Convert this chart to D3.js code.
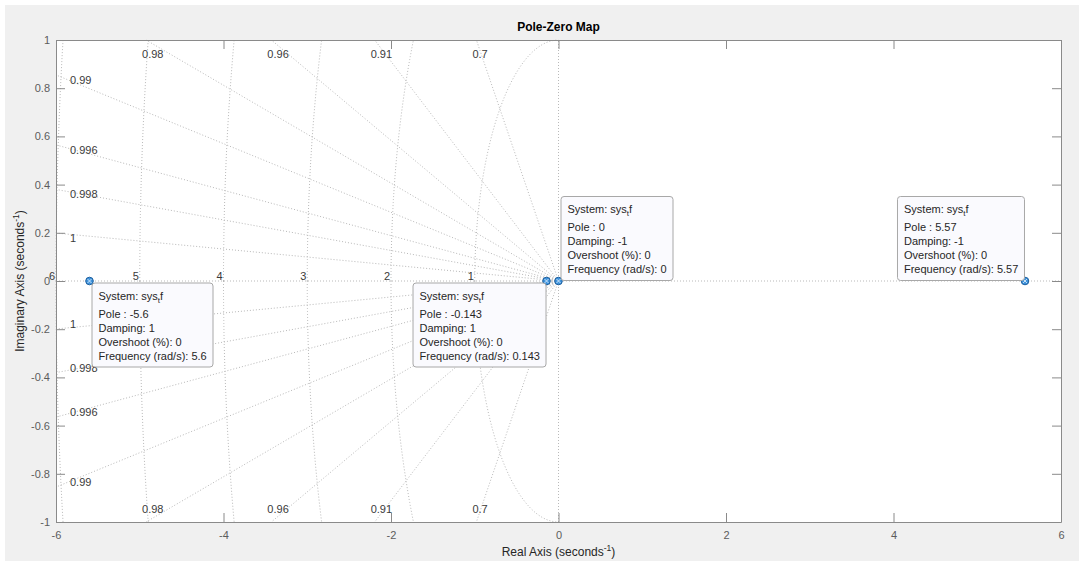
<!DOCTYPE html>
<html>
<head>
<meta charset="utf-8">
<script src="https://cdn.jsdelivr.net/npm/d3@7"></script>
<style>
  html, body { margin: 0; padding: 0; background: #ffffff; }
  svg { display: block; font-family: "Liberation Sans", Arial, Helvetica, sans-serif; }
</style>
</head>
<body>
<svg id="chart" width="1079" height="561"></svg>
<script>
// ---------------- data ----------------
const poles = [-5.6, -0.143, 0, 5.57];
const poleLabels = ["-5.6", "-0.143", "0", "5.57"];
const dampingLabels = ["1", "1", "-1", "-1"];
const overshootLabels = ["0", "0", "0", "0"];
const frequencyLabels = ["5.6", "0.143", "0", "5.57"];
const systemName = ["sys", "t", "f"]; // sys_tf rendered with subscript t

const zetaValues = [0.7, 0.91, 0.96, 0.98, 0.99, 0.9956, 0.998, 0.99945];
const zetaLabels = ["0.7", "0.91", "0.96", "0.98", "0.99", "0.996", "0.998", "1"];
const wnValues = [1, 2, 3, 4, 5, 6];
const wnLabels = ["1", "2", "3", "4", "5", "6"];

const xTicks = [-6, -4, -2, 0, 2, 4, 6];
const yTicks = [-1, -0.8, -0.6, -0.4, -0.2, 0, 0.2, 0.4, 0.6, 0.8, 1];
const xDomain = [-6, 6];
const yDomain = [-1, 1];

// ---------------- layout ----------------
const W = 1079, H = 561;
const L = 56, R = 1061, T = 40, B = 522;
const svg = d3.select("#chart");

svg.append("rect").attr("x", 5).attr("y", 5).attr("width", W - 5).attr("height", H - 5).attr("fill", "#f0f0f0");
svg.append("rect").attr("x", L).attr("y", T).attr("width", R - L).attr("height", B - T).attr("fill", "#ffffff");

const x = d3.scaleLinear().domain(xDomain).range([L, R]);
const y = d3.scaleLinear().domain(yDomain).range([B, T]);

const gridColor = "#b9b9b9";
const gridDash = "1,2";
const grid = svg.append("g").attr("fill", "none").attr("stroke", gridColor)
  .attr("stroke-width", 1).attr("stroke-dasharray", gridDash);

// real and imaginary axes
grid.append("line").attr("x1", x(xDomain[0])).attr("x2", x(xDomain[1])).attr("y1", y(0)).attr("y2", y(0));
grid.append("line").attr("x1", x(0)).attr("x2", x(0)).attr("y1", y(yDomain[0])).attr("y2", y(yDomain[1]));

// damping rays
const xmin = xDomain[0], ymax = yDomain[1];
function rayEnd(z) {
  const s = Math.sqrt(1 - z * z) / z;
  if (s * -xmin <= ymax) return { x: xmin, y: s * -xmin, side: "left" };
  return { x: -ymax / s, y: ymax, side: "top" };
}
zetaValues.forEach(z => {
  const e = rayEnd(z);
  [1, -1].forEach(sg => {
    grid.append("line").attr("x1", x(0)).attr("y1", y(0)).attr("x2", x(e.x)).attr("y2", y(sg * e.y));
  });
});

// natural frequency arcs
const arcLine = d3.line().x(d => x(d[0])).y(d => y(d[1]));
wnValues.forEach(wn => {
  const tmax = Math.asin(Math.min(1, ymax / wn));
  [1, -1].forEach(sg => {
    const pts = d3.range(0, 81).map(i => {
      const t = tmax * i / 80;
      return [-wn * Math.cos(t), sg * wn * Math.sin(t)];
    });
    grid.append("path").attr("d", arcLine(pts));
  });
});

// grid labels
const lblColor = "#3a3a3a";
const lbl = svg.append("g").attr("font-size", 11).attr("fill", lblColor);
zetaValues.forEach((z, i) => {
  const e = rayEnd(z);
  if (e.side === "top") {
    lbl.append("text").attr("x", x(e.x) - 4).attr("y", y(ymax) + 18).text(zetaLabels[i]);
    lbl.append("text").attr("x", x(e.x) - 4).attr("y", y(-ymax) - 9).text(zetaLabels[i]);
  } else {
    lbl.append("text").attr("x", x(xmin) + 14).attr("y", y(e.y) + 9).text(zetaLabels[i]);
    lbl.append("text").attr("x", x(xmin) + 14).attr("y", y(-e.y) - 1).text(zetaLabels[i]);
  }
});
wnValues.forEach((wn, i) => {
  lbl.append("text").attr("x", x(-wn) - 1).attr("y", y(0) - 1).attr("text-anchor", "end").text(wnLabels[i]);
});

// ---------------- axes ----------------
const axisColor = "#8a8a8a";
const tickTextColor = "#5c5c5c";
function styleAxis(g) {
  g.select(".domain").attr("stroke", axisColor);
  g.selectAll(".tick line").attr("stroke", axisColor);
  g.selectAll(".tick text").attr("fill", tickTextColor).attr("font-size", 11)
    .attr("font-family", "Liberation Sans, Arial, sans-serif");
}
svg.append("g").attr("transform", `translate(0,${B})`)
  .call(d3.axisBottom(x).tickValues(xTicks).tickFormat(d => String(d)).tickSizeInner(-9).tickSizeOuter(0).tickPadding(9))
  .call(styleAxis);
svg.append("g").attr("transform", `translate(0,${T})`)
  .call(d3.axisTop(x).tickValues(xTicks).tickFormat("").tickSizeInner(-9).tickSizeOuter(0))
  .call(styleAxis);
svg.append("g").attr("transform", `translate(${L},0)`)
  .call(d3.axisLeft(y).tickValues(yTicks).tickFormat(d => String(d)).tickSizeInner(-9).tickSizeOuter(0).tickPadding(6))
  .call(styleAxis);
svg.append("g").attr("transform", `translate(${R},0)`)
  .call(d3.axisRight(y).tickValues(yTicks).tickFormat("").tickSizeInner(-9).tickSizeOuter(0))
  .call(styleAxis);

// ---------------- titles ----------------
svg.append("text").attr("x", (L + R) / 2).attr("y", 31).attr("text-anchor", "middle")
  .attr("font-size", 12).attr("font-weight", "bold").attr("fill", "#000").text("Pole-Zero Map");

const xl = svg.append("text").attr("x", (L + R) / 2).attr("y", 556).attr("text-anchor", "middle")
  .attr("font-size", 12).attr("fill", "#262626");
xl.append("tspan").text("Real Axis (seconds");
xl.append("tspan").attr("font-size", 8.5).attr("dy", -5).text("-1");
xl.append("tspan").attr("dy", 5).text(")");

const yl = svg.append("text").attr("transform", `translate(24,${y(0)}) rotate(-90)`).attr("text-anchor", "middle")
  .attr("font-size", 12).attr("fill", "#262626");
yl.append("tspan").text("Imaginary Axis (seconds");
yl.append("tspan").attr("font-size", 8.5).attr("dy", -5).text("-1");
yl.append("tspan").attr("dy", 5).text(")");

// ---------------- markers + datatips ----------------
const marks = svg.append("g");
poles.forEach(p => {
  const g = marks.append("g").attr("transform", `translate(${x(p)},${y(0)})`);
  g.append("circle").attr("r", 3.8).attr("fill", "#3f93dc").attr("stroke", "#1d5f9e").attr("stroke-width", 1);
  g.append("path").attr("d", "M-2,-2L2,2M-2,2L2,-2").attr("stroke", "#d9ebfb").attr("stroke-width", 0.9);
});

// placement of each tip relative to its marker: [horizontal, vertical]
const tipSide = [[1, 1], [-1, 1], [1, -1], [-1, -1]];
const tips = svg.append("g").attr("font-size", 11).attr("fill", "#262626");
poles.forEach((p, i) => {
  const mx = x(p), my = y(0);
  const g = tips.append("g");
  const rect = g.append("rect").attr("rx", 3).attr("ry", 3)
    .attr("fill", "#fafafe").attr("stroke", "#a8a8a8").attr("stroke-width", 1);
  const lines = [];
  const t0 = g.append("text");
  t0.append("tspan").text("System: " + systemName[0]);
  t0.append("tspan").attr("font-size", 8).attr("dy", 3).text(systemName[1]);
  t0.append("tspan").attr("dy", -3).text(systemName[2]);
  lines.push(t0);
  lines.push(g.append("text").text("Pole : " + poleLabels[i]));
  lines.push(g.append("text").text("Damping: " + dampingLabels[i]));
  lines.push(g.append("text").text("Overshoot (%): " + overshootLabels[i]));
  lines.push(g.append("text").text("Frequency (rad/s): " + frequencyLabels[i]));
  const wMax = d3.max(lines, t => t.node().getComputedTextLength());
  const bw = Math.round(wMax + 13), bh = 84;
  const [sx, sy] = tipSide[i];
  const left = sx > 0 ? mx + 2 : mx - 1 - bw;
  const top = sy > 0 ? my + 1.5 : my - 1 - bh;
  rect.attr("x", left + 0.5).attr("y", top + 0.5).attr("width", bw).attr("height", bh);
  const base = [17, 35, 49, 63, 77];
  lines.forEach((t, k) => t.attr("x", left + 7).attr("y", top + base[k]));
  lines[0].selectAll("tspan").filter((d, j) => j === 0).attr("x", left + 7);
});
</script>
</body>
</html>
